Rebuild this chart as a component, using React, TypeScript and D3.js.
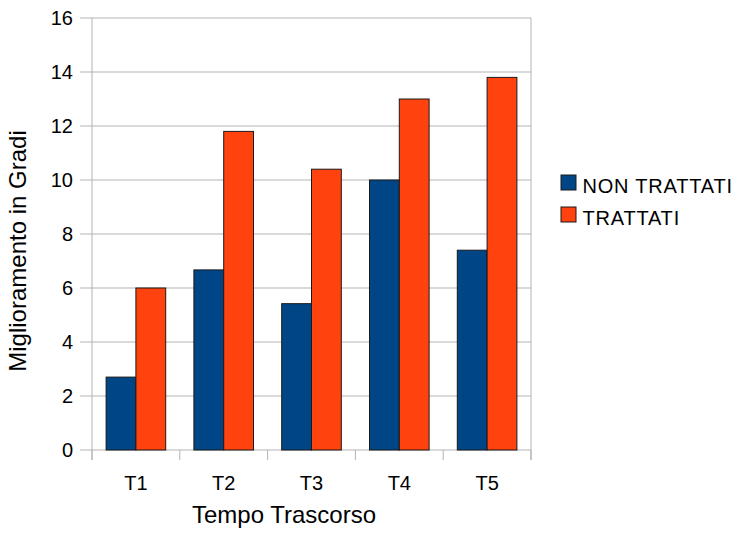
import React from "react";
import * as d3 from "d3";

const categories = ["T1", "T2", "T3", "T4", "T5"];
const seriesNames = ["NON TRATTATI", "TRATTATI"];
const nonTrattati = [2.7, 6.67, 5.42, 10.0, 7.4];
const trattati = [6.0, 11.8, 10.4, 13.0, 13.8];
const yTicks = [0, 2, 4, 6, 8, 10, 12, 14, 16];
const colors = ["#004586", "#ff420e"];

export default function App() {
  const W = 736, H = 537;
  const left = 92, right = 531, top = 18, bottom = 450;
  const x = d3.scaleBand<string>().domain(categories).range([left, right]).paddingInner(0).paddingOuter(0);
  const y = d3.scaleLinear().domain([0, 16]).range([bottom, top]);
  const inner = d3.scaleBand<number>().domain([0, 1]).range([0, x.bandwidth()]).paddingOuter(0.473).paddingInner(0);
  const series = [nonTrattati, trattati];
  const font = "'Liberation Sans', Arial, sans-serif";
  const grid = "#b3b3b3";
  const bounds = categories.map((c) => x(c)!).concat([right]);

  return (
    <svg width={W} height={H} style={{ position: "absolute", left: 0, top: 0 }} fontFamily={font}>
      <rect width={W} height={H} fill="#fff" />
      {yTicks.map((t) => (
        <g key={t}>
          <line x1={left - 12} x2={right} y1={y(t)} y2={y(t)} stroke={grid} strokeWidth={1} />
          <text x={73} y={y(t)} dy="0.35em" textAnchor="end" fontSize={20} fill="#000">{t}</text>
        </g>
      ))}
      <line x1={left} x2={left} y1={top} y2={bottom + 10} stroke={grid} />
      <line x1={right} x2={right} y1={top} y2={bottom + 10} stroke={grid} />
      {bounds.map((b, i) => (
        <line key={i} x1={b} x2={b} y1={bottom} y2={bottom + 10} stroke={grid} />
      ))}
      {categories.map((c, i) => (
        <g key={c}>
          {series.map((s, k) => (
            <rect
              key={k}
              x={x(c)! + inner(k)!}
              y={y(s[i])}
              width={inner.bandwidth()}
              height={bottom - y(s[i])}
              fill={colors[k]}
              stroke="#1a1a1a"
              strokeWidth={1}
            />
          ))}
          <text x={x(c)! + x.bandwidth() / 2} y={490} textAnchor="middle" fontSize={20} fill="#000">{c}</text>
        </g>
      ))}
      <text x={284} y={523} textAnchor="middle" fontSize={24} fill="#000">Tempo Trascorso</text>
      <text transform="translate(26,251) rotate(-90)" textAnchor="middle" fontSize={24} fill="#000">Miglioramento in Gradi</text>
      {seriesNames.map((n, k) => (
        <g key={n}>
          <rect x={561} y={175 + k * 32} width={15} height={15} fill={colors[k]} stroke="#1a1a1a" />
          <text x={582.5} y={193 + k * 32} fontSize={20} letterSpacing={0.8} fill="#000">{n}</text>
        </g>
      ))}
    </svg>
  );
}
